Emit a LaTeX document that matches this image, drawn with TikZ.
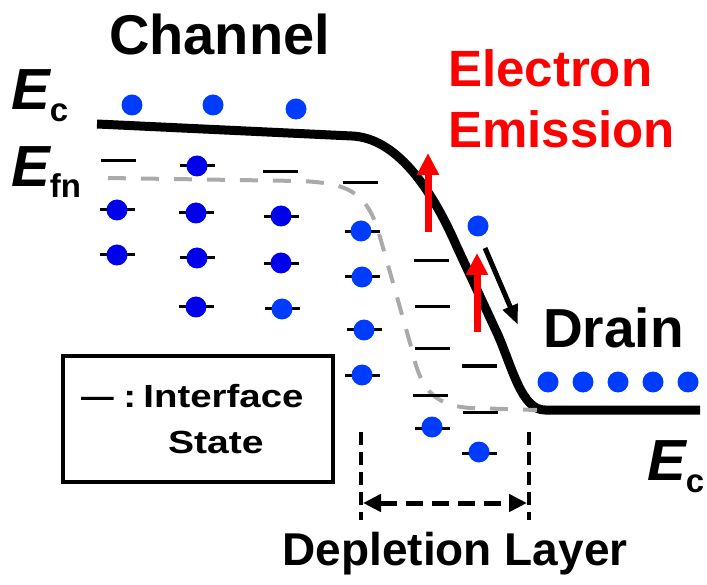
\documentclass[tikz,border=0pt]{standalone}
\usepackage{fontspec}
\setmainfont{Liberation Sans}
\usetikzlibrary{arrows.meta}
\definecolor{efngray}{RGB}{170,170,170}
\definecolor{freeblue}{RGB}{0,60,255}
\definecolor{trapblue}{RGB}{0,0,235}

\begin{document}
\begin{tikzpicture}[x=1pt,y=-1pt,
  lbl/.style={inner sep=0,anchor=base west,font=\bfseries},
  band/.style={line width=9pt,line join=round},
  efn/.style={efngray,line width=4pt,dash pattern=on 18pt off 15pt},
  istate/.style={line width=3pt},
  trapel/.style={fill=trapblue},
  freeel/.style={fill=freeblue},
  emit/.style={red,line width=7pt,-{Triangle[length=22pt,width=21pt]}},
  drift/.style={line width=5pt,-{Triangle[length=20pt,width=15pt]}},
  deplim/.style={line width=4pt,dash pattern=on 13pt off 7pt}]
\useasboundingbox (0,0) rectangle (707,585);

\node[lbl] (chan) at (109,55) {\fontsize{56}{60}\selectfont Channel};
\node[lbl] (ecleft) at (11,110) {\fontsize{58}{60}\selectfont\itshape E\upshape\raisebox{-12pt}{\fontsize{33}{36}\selectfont c}};
\node[lbl] (efnleft) at (11,187) {\fontsize{58}{60}\selectfont\itshape E\upshape\raisebox{-11pt}{\fontsize{33}{36}\selectfont fn}};
\node[lbl,red] (emis1) at (448,87) {\fontsize{51}{54}\selectfont Electron};
\node[lbl,red] (emis2) at (448,148) {\fontsize{51}{54}\selectfont Emission};
\node[lbl] (drain) at (543,348) {\fontsize{55}{58}\selectfont Drain};
\node[lbl] (ecright) at (647,480) {\fontsize{58}{60}\selectfont\itshape E\upshape\raisebox{-12pt}{\fontsize{33}{36}\selectfont c}};
\node[lbl,anchor=base] (deplbl) at (455,565) {\fontsize{46}{48}\selectfont Depletion Layer};

\draw[band] (97,124) -- (352,136) .. controls (395,138) and (430,185) .. (457,247)
  -- (498,335) .. controls (513,370) and (522,410) .. (545,410) -- (700,410);
\draw[efn] (108,178) -- (300,181) .. controls (345,183) and (365,190) .. (378,230)
  -- (412,350) .. controls (420,385) and (430,405) .. (470,408) -- (537,410);

\fill[freeel] (132,105) circle (10.5pt);
\fill[freeel] (213,105) circle (10.5pt);
\fill[freeel] (296,109) circle (10.5pt);
\fill[freeel] (478,226) circle (10.5pt);
\fill[freeel] (548,382) circle (10.5pt);
\fill[freeel] (583,382) circle (10.5pt);
\fill[freeel] (618,382) circle (10.5pt);
\fill[freeel] (653,382) circle (10.5pt);
\fill[freeel] (688,382) circle (10.5pt);

\draw[istate] (101,161) --++ (35,0);
\draw[istate] (100,210) --++ (35,0);
\fill[trapel] (117,210) circle (10.5pt);
\draw[istate] (100,255) --++ (35,0);
\fill[trapel] (117,255) circle (10.5pt);
\draw[istate] (180,166) --++ (35,0);
\fill[trapel] (197,166) circle (10.5pt);
\draw[istate] (179,213) --++ (35,0);
\fill[trapel] (196,213) circle (10.5pt);
\draw[istate] (180,258) --++ (35,0);
\fill[trapel] (197,258) circle (10.5pt);
\draw[istate] (179,307) --++ (35,0);
\fill[trapel] (196,307) circle (10.5pt);
\draw[istate] (263,172) --++ (35,0);
\draw[istate] (264,217) --++ (35,0);
\fill[trapel] (281,216) circle (10.5pt);
\draw[istate] (264,264) --++ (35,0);
\fill[trapel] (281,263) circle (10.5pt);
\draw[istate] (265,309) --++ (35,0);
\fill[freeel] (282,309) circle (10.5pt);
\draw[istate] (343,183) --++ (35,0);
\draw[istate] (345,232) --++ (35,0);
\fill[freeel] (361,231) circle (10.5pt);
\draw[istate] (345,277) --++ (35,0);
\fill[freeel] (362,277) circle (10.5pt);
\draw[istate] (347,330) --++ (35,0);
\fill[freeel] (364,330) circle (10.5pt);
\draw[istate] (345,375) --++ (35,0);
\fill[freeel] (362,375) circle (10.5pt);
\draw[istate] (414,261) --++ (35,0);
\draw[istate] (415,307) --++ (35,0);
\draw[istate] (415,349) --++ (35,0);
\draw[istate] (413,395) --++ (35,0);
\draw[istate] (415,428) --++ (35,0);
\fill[freeel] (432,427) circle (10.5pt);
\draw[istate] (462,366) --++ (35,0);
\draw[istate] (463,412) --++ (35,0);
\draw[istate] (462,453) --++ (35,0);
\fill[freeel] (479,452) circle (10.5pt);

\coordinate (emAfoot) at (428,232);
\coordinate (emAtip) at (428,153);
\coordinate (emBfoot) at (477,332);
\coordinate (emBtip) at (477,253);
\draw[emit] (emAfoot) -- (emAtip);
\draw[emit] (emBfoot) -- (emBtip);
\coordinate (driftA) at (485,248);
\coordinate (driftB) at (518,325);
\draw[drift] (driftA) -- (driftB);

\coordinate (depLtop) at (361,432);
\coordinate (depLbot) at (361,520);
\coordinate (depRtop) at (529,432);
\coordinate (depRbot) at (529,520);
\coordinate (depLmid) at (363,503);
\coordinate (depRmid) at (527,503);
\draw[deplim] (depLtop) -- (depLbot);
\draw[deplim] (depRtop) -- (depRbot);
\draw[line width=5pt,dash pattern=on 17pt off 9pt,{Triangle[length=18pt,width=17pt]}-{Triangle[length=18pt,width=17pt]}] (depLmid) -- (depRmid);

\draw[line width=4pt] (63,356) rectangle (333,482);
\node[lbl] (leg1) at (81,407) {\scalebox{1.2}[1]{\fontsize{32}{34}\selectfont \scalebox{0.85}[1]{—}\hspace{8pt}:\hspace{6pt}Interface}};
\node[lbl] (leg2) at (168,453) {\scalebox{1.22}[1]{\fontsize{32}{34}\selectfont State}};
\end{tikzpicture}
\end{document}
